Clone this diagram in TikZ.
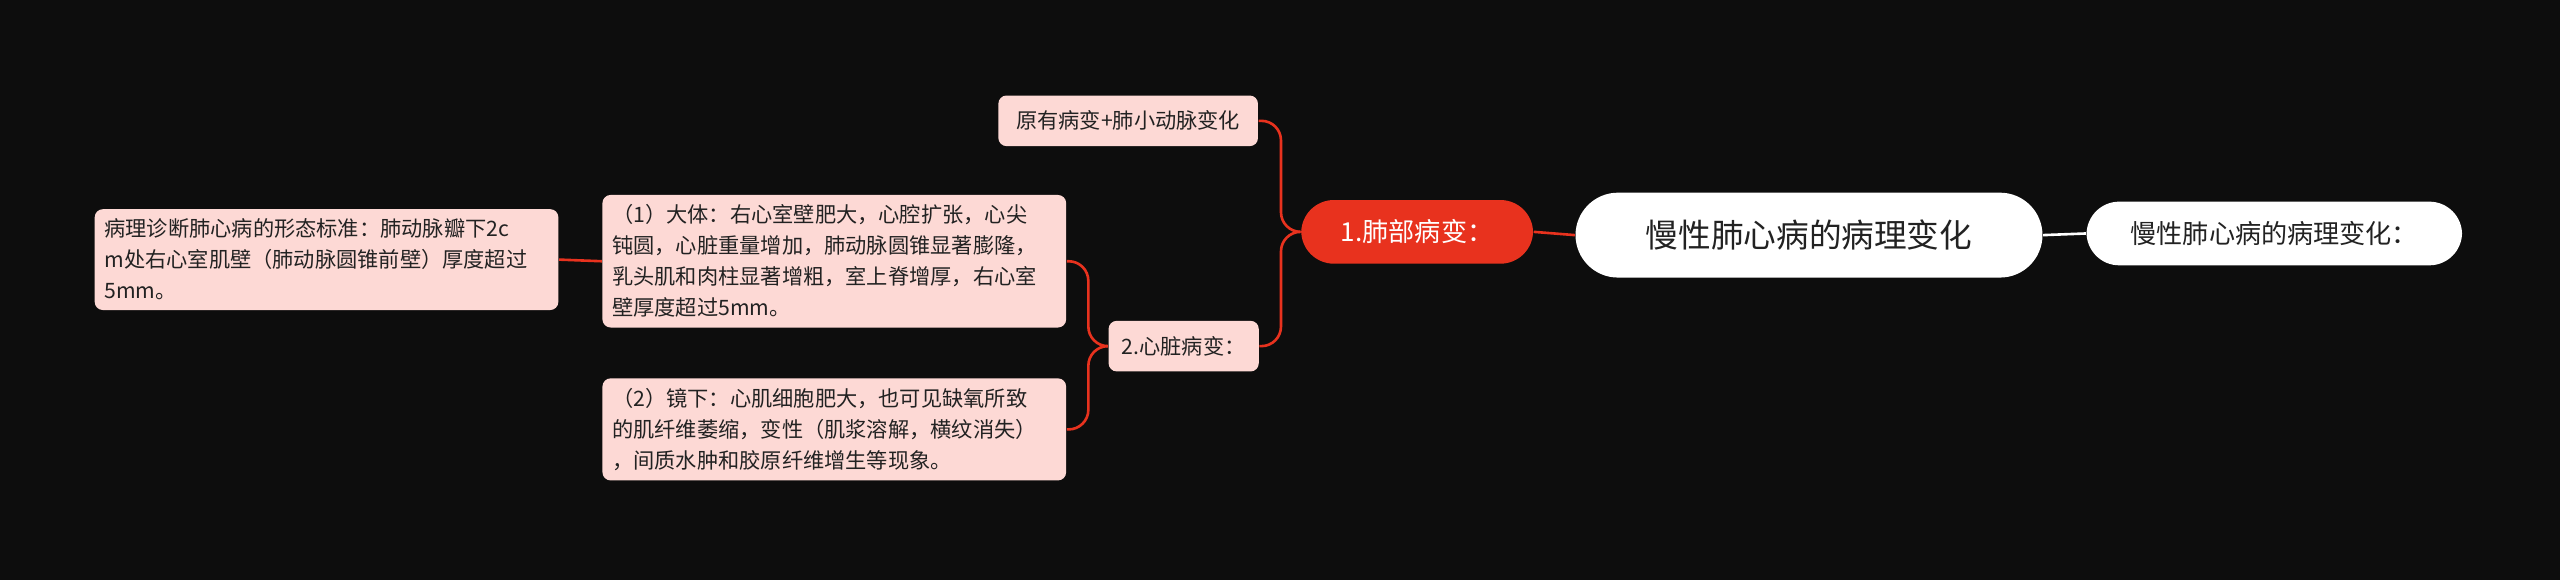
\documentclass[tikz,border=0pt]{standalone}
\usepackage{fontspec}
\setmainfont{Noto Sans CJK SC}
\usetikzlibrary{calc}
\definecolor{bg}{HTML}{0D0D0D}
\definecolor{redc}{HTML}{E8321E}
\definecolor{pinkc}{HTML}{FDD9D5}
\definecolor{txt}{HTML}{222222}
\tikzset{
 leaf/.style={fill=pinkc,rounded corners=2.5pt,text=txt,font=\fontsize{6.5}{9.5}\selectfont,inner sep=3pt,align=left},
 link/.style={draw=redc,line width=0.8pt,rounded corners=6pt},
}
\begin{document}
\begin{tikzpicture}[x=0.5pt,y=-0.5pt]
\fill[bg] (0,0) rectangle (1568,355);
\useasboundingbox (0,0) rectangle (1568,355);
\node[fill=white,rounded corners=13pt,minimum width=143pt,minimum height=26pt,font=\fontsize{10}{12}\selectfont,text=txt] (root) at (1108,144) {慢性肺心病的病理变化};
\node[fill=white,rounded corners=10pt,minimum width=115pt,minimum height=19.5pt,font=\fontsize{8}{10}\selectfont,text=txt] (r) at (1393,143) {慢性肺心病的病理变化：};
\node[fill=redc,rounded corners=10pt,minimum width=71pt,minimum height=19.5pt,font=\fontsize{8}{10}\selectfont,text=white] (lung) at (868,142) {1.肺部病变：};
\node[leaf,minimum width=79.5pt,minimum height=15.5pt,align=center] (lc) at (691,74) {原有病变+肺小动脉变化};
\node[leaf,minimum width=46pt,minimum height=15.5pt,align=center] (heart) at (725,212) {2.心脏病变：};
\node[leaf,text width=136pt] (h1) at (511,160) {（1）大体：右心室壁肥大，心腔扩张，心尖\\钝圆，心脏重量增加，肺动脉圆锥显著膨隆，\\乳头肌和肉柱显著增粗，室上脊增厚，右心室\\壁厚度超过5mm。};
\node[leaf,text width=136pt] (h2) at (511,263) {（2）镜下：心肌细胞肥大，也可见缺氧所致\\的肌纤维萎缩，变性（肌浆溶解，横纹消失）\\，间质水肿和胶原纤维增生等现象。};
\node[leaf,text width=136pt] (d) at (200,159) {病理诊断肺心病的形态标准：肺动脉瓣下2c\\m处右心室肌壁（肺动脉圆锥前壁）厚度超过\\5mm。};
\draw[line width=0.8pt,draw=white] (root.east) -- (r.west);
\draw[link] (root.west) -- (lung.east);
\draw[link] (lung.west) -- ($(lung.west)+(-12,0)$) |- (lc.east);
\draw[link] (lung.west) -- ($(lung.west)+(-12,0)$) |- (heart.east);
\draw[link] (heart.west) -- ($(heart.west)+(-12,0)$) |- (h1.east);
\draw[link] (heart.west) -- ($(heart.west)+(-12,0)$) |- (h2.east);
\draw[link] (h1.west) -- (d.east);
\end{tikzpicture}
\end{document}
